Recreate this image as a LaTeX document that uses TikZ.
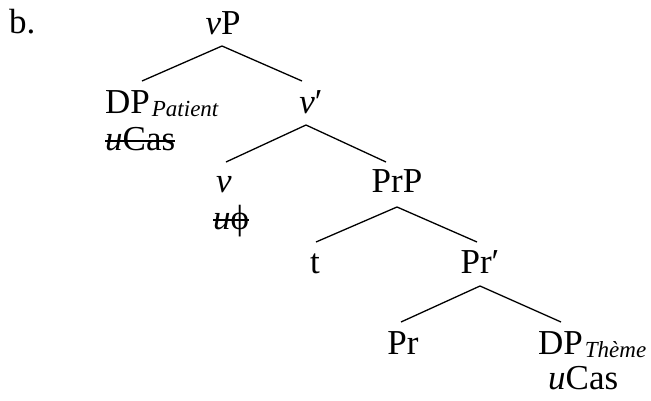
\documentclass[tikz,border=0pt]{standalone}
\usepackage{fontspec}
\setmainfont{Liberation Serif}
\usetikzlibrary{calc}
\newcommand\subtag[1]{\kern2pt\raisebox{-3pt}{\fontsize{23}{23}\selectfont\itshape #1}}
\begin{document}
\begin{tikzpicture}[x=1pt,y=-1pt,
  lbl/.style={anchor=base, inner sep=0pt, font=\fontsize{35}{40}\selectfont},
  lblw/.style={lbl, anchor=base west},
  branch/.style={line width=1.3pt},
  strike/.style={line width=1.5pt},
]
\useasboundingbox (0,0) rectangle (651,400);

\node[lblw] (ex) at (9,33) {b.};

% tree labels
\node[lbl]  (vP)  at (223,34)  {\textit{v}P};
\node[lblw] (DPp) at (105,113) {DP\subtag{Patient}};
\node[lblw] (fp)  at (105,150) {\textit{u}Cas};
\node[lbl]  (vbar) at (311,113) {\textit{v}\char"2032};
\node[lbl]  (v)   at (224,192) {\textit{v}};
\node[lblw] (fv)  at (213,229) {\textit{u}\char"03D5};
\node[lbl]  (PrP) at (397,192) {PrP};
\node[lbl]  (t)   at (315,273) {t};
\node[lbl]  (Prbar) at (480,273) {Pr\char"2032};
\node[lbl]  (Pr)  at (403,354) {Pr};
\node[lblw] (DPt) at (538,354) {DP\subtag{Thème}};
\node[lblw] (ft)  at (548,389) {\textit{u}Cas};

% checked features are struck through
\draw[strike] ($(fp.base west)+(0,-9)$) -- ($(fp.base east)+(0,-9)$);
\draw[strike] ($(fv.base west)+(0,-9)$) -- ($(fv.base east)+(0,-9)$);

% branches
\draw[branch] ($(DPp.base west)+(37,-32)$) -- ($(vP.base)+(-1,12)$) -- ($(vbar.base)+(-9,-32)$);
\draw[branch] ($(v.base)+(2,-30)$) -- ($(vbar.base)+(-5,12)$) -- ($(PrP.base)+(-11,-30)$);
\draw[branch] ($(t.base)+(1,-31)$) -- ($(PrP.base)+(0,15)$) -- ($(Prbar.base)+(-3,-31)$);
\draw[branch] ($(Pr.base)+(-2,-32)$) -- ($(Prbar.base)+(0,13)$) -- ($(DPt.base west)+(23,-32)$);
\end{tikzpicture}
\end{document}
